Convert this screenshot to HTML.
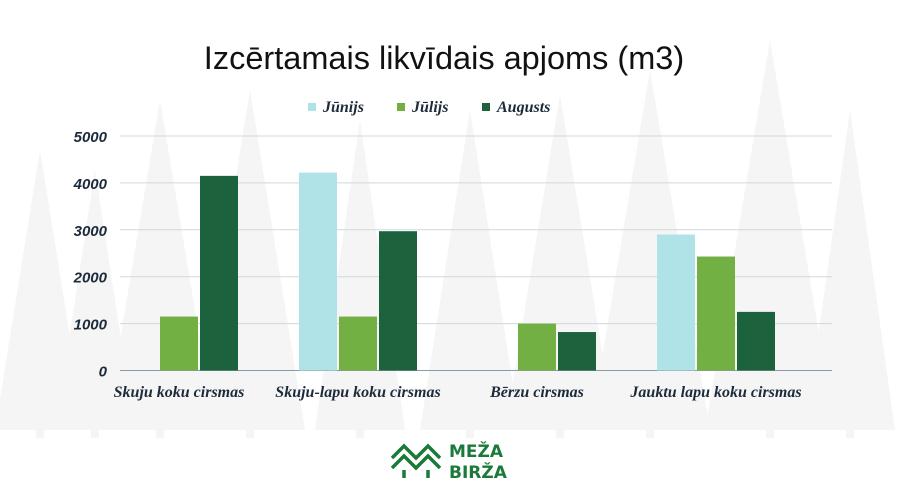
<!DOCTYPE html>
<html><head><meta charset="utf-8"><style>
body{margin:0;background:#fff;}
svg{display:block}
</style></head><body>
<svg id="chart" width="900" height="500" viewBox="0 0 900 500" xmlns="http://www.w3.org/2000/svg">
<g id="bg" fill="#f5f5f5"></g>
<text x="444" y="69" text-anchor="middle" font-family="Liberation Sans, sans-serif" font-size="32.5" fill="#111">Izcērtamais likvīdais apjoms (m3)</text>
<g id="legend"></g>
<g id="grid"></g>
<g id="bars"></g>
<g id="labels"></g>
<g>
<g fill="none" stroke="#1b7a3a" stroke-width="3.5">
<polyline points="392,458 404,446 416,458 428,446 440,458"/>
<polyline points="392,468 404,456 416,468 428,456 440,468"/>
<line x1="404" y1="470" x2="404" y2="478"/><line x1="428" y1="470" x2="428" y2="478"/>
</g>
<text x="449" y="457" font-family="DejaVu Sans, sans-serif" font-weight="bold" font-size="17" fill="#1b7a3a">MEŽA</text>
<text x="449" y="478" font-family="DejaVu Sans, sans-serif" font-weight="bold" font-size="17" fill="#1b7a3a">BIRŽA</text>
</g>
</svg>
<script>
const categories = ["Skuju koku cirsmas","Skuju-lapu koku cirsmas","Bērzu cirsmas","Jauktu lapu koku cirsmas"];
const seriesNames = ["Jūnijs","Jūlijs","Augusts"];
const junijs = [0, 4220, 0, 2900];
const julijs = [1150, 1150, 1000, 2430];
const augusts = [4150, 2970, 820, 1250];
const yTicks = [0,1000,2000,3000,4000,5000];
const colors = ["#b0e3e8","#72b043","#1b623d"];
const NS="http://www.w3.org/2000/svg";
const x0=120,x1=832,y0=370.5,yTop=136,yMax=5000;
const yS=v=>y0-(v/yMax)*(y0-yTop);
const gW=179,bW=38,bGap=2;
function mk(tag,attrs,parent){const e=document.createElementNS(NS,tag);for(const k in attrs)e.setAttribute(k,attrs[k]);parent.appendChild(e);return e;}
const bg=document.getElementById('bg');
[[40,150,45],[95,170,40],[160,100,55],[250,90,55],[360,120,45],[470,110,50],[560,95,55],[650,70,60],[770,40,65],[850,110,45]].forEach(t=>{
 const [cx,top,w]=t;
 const p=mk('polygon',{points:`${cx},${top} ${cx+w},430 ${cx+4},430 ${cx+4},438 ${cx-4},438 ${cx-4},430 ${cx-w},430`},bg);
 
 
});
const grid=document.getElementById('grid'),labels=document.getElementById('labels');
yTicks.forEach(v=>{
 const l=mk('line',{x1:x0,x2:x1,y1:yS(v),y2:yS(v),stroke:v===0?'#8a9aa8':'#d3d7da','stroke-width':1},grid);
 
 
 const t=mk('text',{x:107,y:yS(v)+6,'text-anchor':'end','font-family':'Liberation Sans, sans-serif','font-style':'italic','font-weight':'bold','font-size':15,fill:'#1c2a3a'},labels);
 t.textContent=v;
 
 
});
const bars=document.getElementById('bars');
const series=[junijs,julijs,augusts];
categories.forEach((c,i)=>{
 const gx=x0+i*gW;
 series.forEach((s,j)=>{
  const x=gx+j*(bW+bGap), y=yS(s[i]);
  const r=mk('rect',{x:x,y:y,width:bW,height:Math.max(0,y0-y),fill:colors[j]},bars);
  
  
 });
 const t=mk('text',{x:gx+59,y:397,'text-anchor':'middle','font-family':'Liberation Serif, serif','font-style':'italic','font-weight':'bold','font-size':16,fill:'#1c2a3a'},labels);
 t.textContent=c;
 
 
});
const lg=document.getElementById('legend');
const lx=[308,397,482];
seriesNames.forEach((n,j)=>{
 const r=mk('rect',{x:lx[j],y:103,width:8,height:8,fill:colors[j]},lg);
 
 
 const t=mk('text',{x:lx[j]+15,y:112,'font-family':'Liberation Serif, serif','font-style':'italic','font-weight':'bold','font-size':16,fill:'#1c2a3a'},lg);
 t.textContent=n;
 
 
});
</script>
</body></html>
